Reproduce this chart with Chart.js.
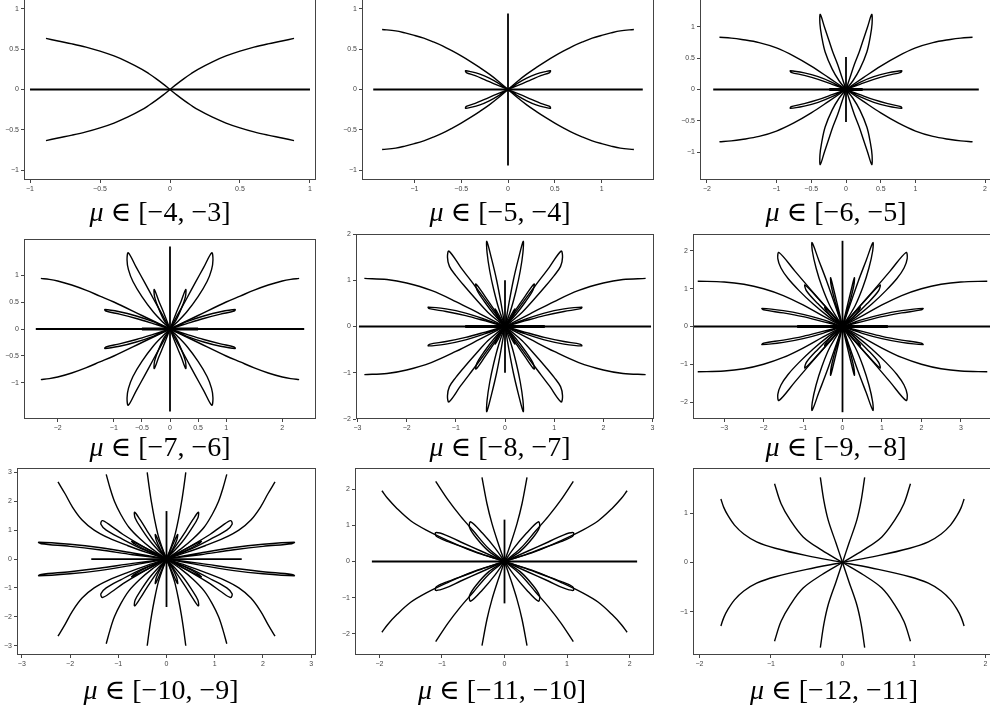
<!DOCTYPE html>
<html>
<head>
<meta charset="utf-8">
<script src="https://cdn.jsdelivr.net/npm/chart.js@4.4.1/dist/chart.umd.min.js"></script>
<style>
  html, body { margin: 0; padding: 0; background: #fff; width: 990px; height: 710px; overflow: hidden; }
  .panel { position: absolute; }
  .cap { position: absolute; width: 300px; height: 32px; margin-left: -150px; text-align: center;
         font-family: "Liberation Serif", "DejaVu Serif", serif; font-size: 28px; line-height: 32px;
         color: #000; white-space: nowrap; }
</style>
</head>
<body>
<script>
// Bifurcation panels, one per mu interval. Branches are read for the first quadrant
// and reflected into the other three (the figure is symmetric in x and y).

// ---- axis ticks ----
const p1XTicks = [-1, -0.5, 0, 0.5, 1];
const p1YTicks = [-1, -0.5, 0, 0.5, 1];
const p2XTicks = [-1, -0.5, 0, 0.5, 1];
const p2YTicks = [-1, -0.5, 0, 0.5, 1];
const p3XTicks = [-2, -1, -0.5, 0, 0.5, 1, 2];
const p3YTicks = [-1, -0.5, 0, 0.5, 1];
const p4XTicks = [-2, -1, -0.5, 0, 0.5, 1, 2];
const p4YTicks = [-1, -0.5, 0, 0.5, 1];
const p5XTicks = [-3, -2, -1, 0, 1, 2, 3];
const p5YTicks = [-2, -1, 0, 1, 2];
const p6XTicks = [-3, -2, -1, 0, 1, 2, 3];
const p6YTicks = [-2, -1, 0, 1, 2];
const p7XTicks = [-3, -2, -1, 0, 1, 2, 3];
const p7YTicks = [-3, -2, -1, 0, 1, 2, 3];
const p8XTicks = [-2, -1, 0, 1, 2];
const p8YTicks = [-2, -1, 0, 1, 2];
const p9XTicks = [-2, -1, 0, 1, 2];
const p9YTicks = [-1, 0, 1];

// ---- captions ----
const muIntervals = ['[−4, −3]', '[−5, −4]', '[−6, −5]', '[−7, −6]', '[−8, −7]',
                     '[−9, −8]', '[−10, −9]', '[−11, −10]', '[−12, −11]'];

// ---- straight branches: [horizontal half length, vertical half length, doubled segment half length]
const p1Axis = [1.0, 0, 0];
const p2Axis = [1.44, 0.94, 0];
const p3Axis = [1.91, 0.52, 0.24];
const p4Axis = [2.39, 1.53, 0.5];
const p5Axis = [2.97, 1.0, 0.81];
const p6Axis = [3.79, 2.27, 1.15];
const p7Axis = [1.56, 1.66, 0];
const p8Axis = [2.12, 1.16, 0];
const p9Axis = [0, 0, 0];

// ---- first-quadrant curves ----
const p1SCurve = [[0,0],[0.05,0.07],[0.1,0.135],[0.15,0.195],[0.2,0.25],[0.3,0.34],[0.4,0.415],[0.5,0.475],[0.6,0.525],[0.7,0.565],[0.8,0.6],[0.886,0.632]];

const p2SCurve = [[0,0],[0.1,0.1],[0.2,0.19],[0.3,0.27],[0.4,0.345],[0.5,0.415],[0.6,0.48],[0.7,0.54],[0.8,0.59],[0.9,0.635],[1.0,0.67],[1.1,0.7],[1.2,0.725],[1.345,0.743]];
const p2Petal = [[0,0],[0.1,0.075],[0.2,0.14],[0.3,0.19],[0.4,0.222],[0.453,0.232],[0.446,0.21],[0.35,0.172],[0.25,0.122],[0.12,0.056],[0,0]];

const p3SCurve = [[0,0],[0.25,0.19],[0.5,0.375],[0.75,0.535],[1.0,0.665],[1.25,0.75],[1.5,0.8],[1.65,0.822],[1.82,0.836]];
const p3PetalA = [[0,0],[0.2,0.115],[0.4,0.205],[0.6,0.265],[0.8,0.3],[0.79,0.275],[0.6,0.226],[0.4,0.163],[0.2,0.083],[0,0]];
const p3PetalB = [[0,0],[0.06,0.2],[0.12,0.4],[0.19,0.6],[0.25,0.8],[0.31,1.0],[0.37,1.2],[0.375,1.05],[0.35,0.85],[0.3,0.6],[0.2,0.33],[0.1,0.14],[0,0]];

const p4SCurve = [[0,0],[0.5,0.25],[1.0,0.5],[1.25,0.61],[1.5,0.72],[1.75,0.815],[2.0,0.89],[2.15,0.92],[2.3,0.937]];
const p4PetalA = [[0,0],[0.3,0.135],[0.6,0.24],[0.9,0.32],[1.16,0.36],[1.14,0.33],[0.9,0.275],[0.6,0.195],[0.3,0.1],[0,0]];
const p4PetalB = [[0,0],[0.1,0.27],[0.2,0.52],[0.28,0.733],[0.275,0.6],[0.21,0.4],[0.11,0.17],[0,0]];
const p4PetalC = [[0,0],[0.15,0.29],[0.3,0.57],[0.45,0.86],[0.6,1.14],[0.743,1.413],[0.765,1.28],[0.74,1.1],[0.66,0.88],[0.5,0.6],[0.3,0.32],[0.12,0.12],[0,0]];

const p5SCurve = [[0,0],[0.5,0.27],[1.0,0.54],[1.5,0.78],[2.0,0.94],[2.4,1.015],[2.86,1.04]];
const p5PetalA = [[0,0],[0.4,0.155],[0.8,0.29],[1.2,0.38],[1.56,0.42],[1.54,0.385],[1.2,0.325],[0.8,0.235],[0.4,0.12],[0,0]];
const p5PetalB = [[0,0],[0.3,0.43],[0.6,0.86],[0.9,1.28],[1.14,1.63],[1.17,1.5],[1.13,1.3],[1.0,1.1],[0.83,0.88],[0.6,0.6],[0.35,0.31],[0.12,0.1],[0,0]];
const p5PetalC = [[0,0],[0.08,0.5],[0.17,1.0],[0.27,1.45],[0.37,1.84],[0.365,1.6],[0.31,1.2],[0.23,0.8],[0.13,0.4],[0,0]];
const p5PetalD = [[0,0],[0.2,0.33],[0.4,0.64],[0.59,0.92],[0.57,0.79],[0.42,0.54],[0.22,0.26],[0,0]];
const p5PetalE = [[0,0],[0.1,0.2],[0.2,0.38],[0.19,0.3],[0.11,0.14],[0,0]];

const p6SCurve = [[0,0],[0.5,0.28],[1.0,0.57],[1.5,0.82],[2.0,1.0],[2.5,1.12],[3.0,1.18],[3.67,1.2]];
const p6PetalA = [[0,0],[0.5,0.18],[1.0,0.32],[1.5,0.42],[2.04,0.48],[2.0,0.44],[1.5,0.36],[1.0,0.26],[0.5,0.13],[0,0]];
const p6PetalB = [[0,0],[0.4,0.49],[0.8,0.97],[1.2,1.46],[1.61,1.96],[1.64,1.8],[1.56,1.55],[1.38,1.27],[1.1,0.95],[0.75,0.6],[0.38,0.28],[0,0]];
const p6PetalC = [[0,0],[0.2,0.6],[0.4,1.2],[0.6,1.75],[0.77,2.22],[0.765,2.0],[0.67,1.55],[0.52,1.05],[0.32,0.55],[0,0]];
const p6PetalD = [[0,0],[0.3,0.37],[0.6,0.72],[0.95,1.1],[0.91,0.94],[0.62,0.6],[0.32,0.29],[0,0]];
const p6PetalE = [[0,0],[0.1,0.45],[0.2,0.88],[0.3,1.29],[0.29,1.1],[0.2,0.7],[0.09,0.3],[0,0]];
const p6PetalF = [[0,0],[0.2,0.25],[0.45,0.51],[0.41,0.42],[0.21,0.19],[0,0]];

const p7CurveA = [[0,0],[0.08,0.35],[0.17,0.8],[0.25,1.4],[0.31,1.95],[0.36,2.5],[0.4,3.0]];
const p7CurveB = [[0,0],[0.3,0.35],[0.55,0.7],[0.78,1.1],[0.95,1.55],[1.08,2.0],[1.17,2.45],[1.25,2.93]];
const p7CurveC = [[0,0],[0.4,0.22],[0.8,0.46],[1.2,0.73],[1.5,1.0],[1.75,1.35],[1.95,1.8],[2.1,2.25],[2.25,2.67]];
const p7PetalA = [[0,0],[0.7,0.21],[1.4,0.4],[2.0,0.51],[2.65,0.58],[2.6,0.53],[2.0,0.44],[1.4,0.32],[0.7,0.15],[0,0]];
const p7PetalB = [[0,0],[0.5,0.45],[0.9,0.85],[1.15,1.15],[1.33,1.33],[1.36,1.2],[1.25,1.0],[0.95,0.72],[0.5,0.34],[0,0]];
const p7PetalC = [[0,0],[0.2,0.47],[0.4,0.97],[0.55,1.37],[0.66,1.62],[0.65,1.42],[0.52,1.05],[0.32,0.58],[0,0]];
const p7PetalD = [[0,0],[0.12,0.46],[0.23,0.85],[0.21,0.64],[0.11,0.28],[0,0]];
const p7PetalE = [[0,0],[0.35,0.31],[0.72,0.62],[0.66,0.52],[0.34,0.24],[0,0]];

const p8CurveA = [[0,0],[0.1,0.5],[0.2,1.05],[0.28,1.6],[0.36,2.33]];
const p8CurveB = [[0,0],[0.25,0.35],[0.5,0.85],[0.7,1.25],[0.9,1.7],[1.1,2.22]];
const p8CurveC = [[0,0],[0.5,0.28],[0.93,0.6],[1.25,0.87],[1.5,1.13],[1.72,1.47],[1.87,1.75],[1.96,1.96]];
const p8PetalA = [[0,0],[0.35,0.27],[0.7,0.54],[0.95,0.74],[1.1,0.8],[1.09,0.7],[0.9,0.55],[0.6,0.36],[0.3,0.17],[0,0]];
const p8PetalB = [[0,0],[0.15,0.37],[0.35,0.78],[0.54,1.1],[0.56,0.95],[0.45,0.65],[0.25,0.28],[0,0]];

const p9CurveA = [[0,0],[0.09,0.39],[0.2,0.86],[0.26,1.25],[0.31,1.73]];
const p9CurveB = [[0,0],[0.29,0.25],[0.55,0.52],[0.73,0.86],[0.86,1.2],[0.95,1.6]];
const p9CurveC = [[0,0],[0.5,0.14],[0.94,0.29],[1.2,0.42],[1.38,0.58],[1.51,0.76],[1.6,0.95],[1.66,1.12],[1.7,1.29]];

// ---- layout of each panel (frame in page pixels, axis limits) ----
const panels = [
  { frame: [24, -1, 316, 180],  xr: [-1.043, 1.043], yr: [-1.12, 1.12],  xt: p1XTicks, yt: p1YTicks, axis: p1Axis, branches: [p1SCurve], cap: [160, 212] },
  { frame: [362, -1, 654, 180], xr: [-1.56, 1.56],   yr: [-1.12, 1.12],  xt: p2XTicks, yt: p2YTicks, axis: p2Axis, branches: [p2SCurve, p2Petal], cap: [500, 212] },
  { frame: [700, -1, 992, 180], xr: [-2.1, 2.1],     yr: [-1.447, 1.447], xt: p3XTicks, yt: p3YTicks, axis: p3Axis, branches: [p3SCurve, p3PetalA, p3PetalB], cap: [836, 212] },
  { frame: [24, 239, 316, 419], xr: [-2.6, 2.6],     yr: [-1.667, 1.667], xt: p4XTicks, yt: p4YTicks, axis: p4Axis, branches: [p4SCurve, p4PetalA, p4PetalB, p4PetalC], cap: [160, 447] },
  { frame: [356, 234, 654, 419], xr: [-3.03, 3.03],  yr: [-2, 2],        xt: p5XTicks, yt: p5YTicks, axis: p5Axis, branches: [p5SCurve, p5PetalA, p5PetalB, p5PetalC, p5PetalD, p5PetalE], cap: [500, 447] },
  { frame: [693, 234, 992, 419], xr: [-3.79, 3.79],  yr: [-2.45, 2.45],  xt: p6XTicks, yt: p6YTicks, axis: p6Axis, branches: [p6SCurve, p6PetalA, p6PetalB, p6PetalC, p6PetalD, p6PetalE, p6PetalF], cap: [836, 447] },
  { frame: [17, 468, 316, 655], xr: [-3.1, 3.1],     yr: [-3.32, 3.15],  xt: p7XTicks, yt: p7YTicks, axis: p7Axis, branches: [p7CurveA, p7CurveB, p7CurveC, p7PetalA, p7PetalB, p7PetalC, p7PetalD, p7PetalE], cap: [161, 690] },
  { frame: [355, 468, 654, 655], xr: [-2.39, 2.39],  yr: [-2.59, 2.59],  xt: p8XTicks, yt: p8YTicks, axis: p8Axis, branches: [p8CurveA, p8CurveB, p8CurveC, p8PetalA, p8PetalB], cap: [502, 690] },
  { frame: [693, 468, 992, 655], xr: [-2.09, 2.09],  yr: [-1.88, 1.92],  xt: p9XTicks, yt: p9YTicks, axis: p9Axis, branches: [p9CurveA, p9CurveB, p9CurveC], cap: [834, 690] }
];

const PAD_L = 30, PAD_T = 6, PAD_R = 8, PAD_B = 18;

function fmtTick(v) {
  return v < 0 ? '\u2212' + String(-v) : String(v);
}

function line(points, width) {
  return {
    data: points.map(([x, y]) => ({ x: x, y: y })),
    showLine: true,
    borderColor: '#000',
    borderWidth: width,
    pointRadius: 0,
    tension: 0.35,
    fill: false
  };
}

// reflect a first-quadrant branch into all four quadrants
function reflect(points) {
  return [[1, 1], [-1, 1], [1, -1], [-1, -1]].map(([sx, sy]) =>
    line(points.map(([x, y]) => [x * sx, y * sy]), 1.4));
}

const framePlugin = {
  id: 'frame',
  afterDraw(chart) {
    const a = chart.chartArea, ctx = chart.ctx;
    ctx.save();
    ctx.strokeStyle = '#444';
    ctx.lineWidth = 1;
    ctx.strokeRect(a.left + 0.5, a.top + 0.5, a.right - a.left - 1, a.bottom - a.top - 1);
    ctx.restore();
  }
};

function scaleOpts(range, ticks, isX) {
  return {
    type: 'linear',
    min: range[0],
    max: range[1],
    afterBuildTicks: (s) => { s.ticks = ticks.map(v => ({ value: v })); },
    afterFit: (s) => {
      if (isX) s.height = PAD_B; else s.width = PAD_L;
      // keep the plot frame exactly where the layout wants it
      s.paddingLeft = 0; s.paddingRight = 0; s.paddingTop = 0; s.paddingBottom = 0;
    },
    border: { display: false },
    grid: { drawOnChartArea: false, drawTicks: true, tickLength: 3, color: '#444' },
    ticks: {
      autoSkip: false, maxRotation: 0, padding: 2,
      color: '#444', font: { family: 'Liberation Sans, Arial, sans-serif', size: 7 },
      callback: (v) => fmtTick(v)
    }
  };
}

panels.forEach((p, i) => {
  const [fl, ft, fr, fb] = p.frame;
  const w = (fr - fl) + PAD_L + PAD_R;
  const h = (fb - ft) + PAD_T + PAD_B;

  const box = document.createElement('div');
  box.className = 'panel';
  box.style.left = (fl - PAD_L) + 'px';
  box.style.top = (ft - PAD_T) + 'px';
  const canvas = document.createElement('canvas');
  canvas.width = w;
  canvas.height = h;
  canvas.style.width = w + 'px';
  canvas.style.height = h + 'px';
  box.appendChild(canvas);
  document.body.appendChild(box);

  const datasets = [];
  const [hx, vy, dbl] = p.axis;
  if (hx > 0) datasets.push(line([[-hx, 0], [hx, 0]], 1.8));
  if (vy > 0) datasets.push(line([[0, -vy], [0, vy]], 1.8));
  if (dbl > 0) datasets.push(line([[-dbl, 0], [dbl, 0]], 3));
  p.branches.forEach(b => reflect(b).forEach(d => datasets.push(d)));

  new Chart(canvas, {
    type: 'scatter',
    data: { datasets: datasets },
    options: {
      responsive: false,
      animation: false,
      events: [],
      layout: { padding: { left: 0, top: PAD_T, right: PAD_R, bottom: 0 } },
      plugins: { legend: { display: false }, tooltip: { enabled: false } },
      scales: {
        x: scaleOpts(p.xr, p.xt, true),
        y: scaleOpts(p.yr, p.yt, false)
      }
    },
    plugins: [framePlugin]
  });

  const cap = document.createElement('div');
  cap.className = 'cap';
  cap.style.left = p.cap[0] + 'px';
  cap.style.top = (p.cap[1] - 16) + 'px';
  cap.innerHTML = '<i>\u03bc</i> \u2208 ' + muIntervals[i];
  document.body.appendChild(cap);
});
</script>
</body>
</html>
